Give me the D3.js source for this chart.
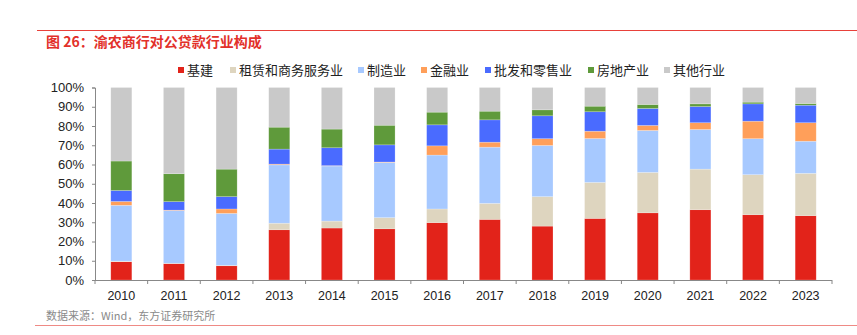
<!DOCTYPE html>
<html>
<head>
<meta charset="utf-8">
<script src="https://cdn.jsdelivr.net/npm/d3@7"></script>
<style>
  html, body { margin: 0; padding: 0; background: #fff; }
  svg { display: block; }
  text { font-family: "Liberation Sans", Arial, "Noto Sans CJK SC", sans-serif; }
  .cjk { font-family: "Noto Sans CJK SC", "Liberation Sans", sans-serif; }
</style>
</head>
<body>
<svg id="chart" width="857" height="335"></svg>
<script>
// Corporate loan composition by industry, share of total (%)
const years = ["2010","2011","2012","2013","2014","2015","2016","2017","2018","2019","2020","2021","2022","2023"];
const seriesNames = ["基建","租赁和商务服务业","制造业","金融业","批发和零售业","房地产业","其他行业"];
const infra       = [9.5, 8.5, 7.4, 26.1, 27.0, 26.6, 29.8, 31.5, 28.0, 32.0, 34.9, 36.5, 33.9, 33.4];
const leasing     = [0.3, 0.2, 0.2, 3.4, 3.6, 5.8, 7.1, 8.3, 15.3, 18.7, 21.0, 21.1, 20.8, 22.0];
const manufacture = [29.0, 27.3, 27.0, 30.3, 28.6, 28.7, 28.0, 29.2, 26.6, 22.8, 21.8, 20.6, 18.7, 16.7];
const finance     = [2.0, 0.3, 2.3, 0.4, 0.2, 0.2, 4.8, 2.6, 3.5, 3.8, 2.6, 3.5, 9.1, 9.6];
const wholesale   = [5.7, 4.4, 6.4, 7.8, 9.3, 8.9, 10.9, 11.6, 11.9, 10.1, 8.8, 8.4, 9.0, 9.1];
const realEstate  = [15.3, 14.5, 14.3, 11.4, 9.7, 10.2, 6.6, 4.5, 3.1, 2.9, 2.1, 1.4, 0.9, 0.9];
const others      = [38.2, 44.8, 42.4, 20.6, 21.6, 19.6, 12.8, 12.3, 11.6, 9.7, 8.8, 8.5, 7.6, 8.3];
const yTicks = [0, 10, 20, 30, 40, 50, 60, 70, 80, 90, 100];
const colors = ["#e2231a", "#ded5bf", "#a7c9ff", "#ff9f5a", "#4a6bff", "#5f9a3b", "#c9c9c9"];

const seriesValues = [infra, leasing, manufacture, finance, wholesale, realEstate, others];
const rows = years.map((y, i) => {
  const r = { year: y };
  seriesNames.forEach((s, k) => { r[s] = seriesValues[k][i]; });
  return r;
});

const svg = d3.select("#chart");
const W = 857, H = 335;
const margin = { left: 95, right: 25, top: 87.5, bottom: 55 };

// header rule and title
svg.append("line").attr("x1", 37).attr("x2", W).attr("y1", 30.5).attr("y2", 30.5)
  .attr("stroke", "#e8413a").attr("stroke-width", 1);
svg.append("text").attr("class", "cjk").attr("x", 46).attr("y", 47)
  .attr("font-size", 14).attr("font-weight", "bold").attr("fill", "#e2302a")
  .text("图 26：渝农商行对公贷款行业构成");

const x = d3.scaleBand().domain(years).range([margin.left, 832]).paddingInner(0.6).paddingOuter(0.3);
const y = d3.scaleLinear().domain([0, 100]).range([280, 87.5]);

const stack = d3.stack().keys(seriesNames);
const layers = stack(rows);

svg.append("g").selectAll("g").data(layers).join("g")
  .attr("fill", (d, i) => colors[i])
  .selectAll("rect").data(d => d).join("rect")
  .attr("x", d => x(d.data.year))
  .attr("width", x.bandwidth())
  .attr("y", d => y(d[1]))
  .attr("height", d => Math.max(0, y(d[0]) - y(d[1])))
  .attr("stroke", "#ffffff").attr("stroke-opacity", 0.35).attr("stroke-width", 0.6);

// y axis
const yAxis = d3.axisLeft(y).tickValues(yTicks).tickFormat(d => d + "%").tickSize(3).tickPadding(8);
const gy = svg.append("g").attr("transform", `translate(${margin.left},0)`).call(yAxis);
gy.select(".domain").attr("stroke", "#888");
gy.selectAll(".tick line").attr("stroke", "#888");
gy.selectAll("text").attr("font-size", 13).attr("fill", "#222")
  .style("font-family", "'Liberation Sans', Arial, sans-serif");

// x axis with ticks on band boundaries
const xb = d3.scaleLinear().domain([0, years.length]).range([margin.left, 832]);
const gx = svg.append("g").attr("transform", "translate(0,280)");
gx.append("line").attr("x1", margin.left).attr("x2", 832).attr("y1", 0.5).attr("y2", 0.5).attr("stroke", "#888");
gx.selectAll("line.tk").data(d3.range(years.length + 1)).join("line").attr("class", "tk")
  .attr("x1", d => xb(d)).attr("x2", d => xb(d)).attr("y1", 0).attr("y2", 4).attr("stroke", "#888");
gx.selectAll("text").data(years).join("text")
  .attr("x", d => x(d) + x.bandwidth() / 2).attr("y", 20)
  .attr("text-anchor", "middle").attr("font-size", 12.5).attr("fill", "#222")
  .text(d => d);

// legend
const legendX = [178, 230, 358, 421, 485, 588, 664];
const lg = svg.append("g");
seriesNames.forEach((s, i) => {
  lg.append("rect").attr("x", legendX[i]).attr("y", 67).attr("width", 6).attr("height", 6).attr("fill", colors[i]);
  lg.append("text").attr("class", "cjk").attr("x", legendX[i] + 9).attr("y", 74.5)
    .attr("font-size", 13).attr("fill", "#222").text(s);
});

// source note and footer rule
svg.append("text").attr("class", "cjk").attr("x", 46).attr("y", 320)
  .attr("font-size", 11).attr("fill", "#8a8a8a").text("数据来源：Wind，东方证券研究所");
svg.append("line").attr("x1", 35).attr("x2", W).attr("y1", 325.5).attr("y2", 325.5)
  .attr("stroke", "#ef8a85").attr("stroke-width", 1.2);
</script>
</body>
</html>
